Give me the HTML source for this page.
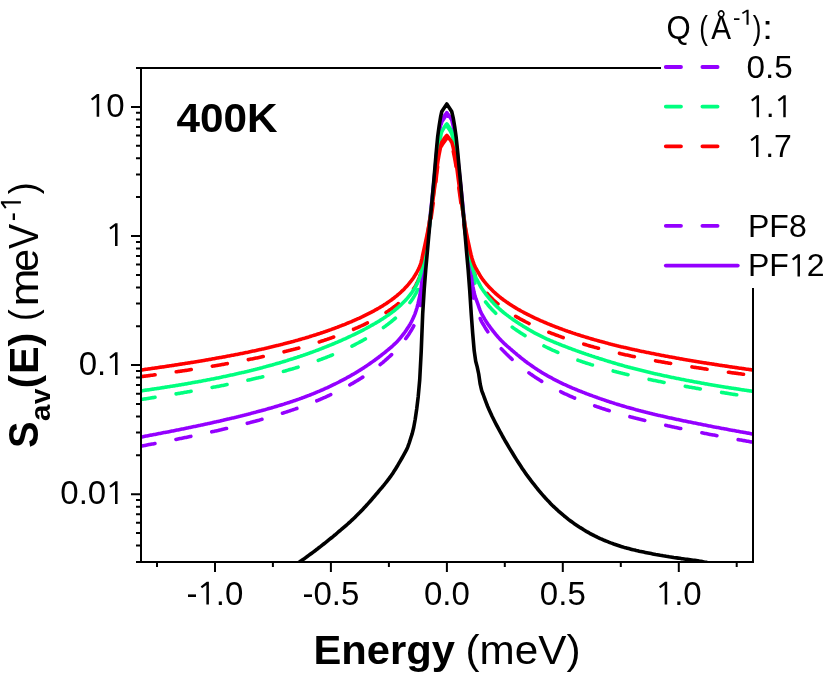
<!DOCTYPE html>
<html><head><meta charset="utf-8"><title>chart</title>
<style>
html,body{margin:0;padding:0;background:#fff;}
svg{display:block}
text{font-family:"Liberation Sans",sans-serif;fill:#000}
svg{will-change:transform;transform:translateZ(0)}
.t{font-size:33px}
.l{font-size:32px}
.b{font-weight:bold}
</style></head><body>
<svg width="830" height="674" viewBox="0 0 830 674">
<rect width="830" height="674" fill="#fff"/>
<defs><clipPath id="cp"><rect x="141.0" y="68.0" width="612.0" height="494.0"/></clipPath></defs>
<g clip-path="url(#cp)" fill="none" stroke-width="3.6" stroke-linecap="round" stroke-linejoin="round">
<path d="M141.0,446.1 L142.0,445.9 L143.0,445.7 L144.0,445.6 L145.0,445.4 L146.0,445.2 L147.0,445.0 L148.0,444.8 L149.0,444.6 L150.0,444.4 L151.0,444.3 L152.0,444.1 L153.0,443.9 L154.0,443.7 L155.0,443.5 L156.0,443.3 L157.0,443.1 L158.0,442.9 L159.0,442.7 L160.0,442.5 L161.0,442.4 L162.0,442.2 L163.0,442.0 L164.0,441.8 L165.0,441.6 L166.0,441.4 L167.0,441.2 L168.0,441.0 L169.0,440.8 L170.0,440.6 L171.0,440.4 L172.0,440.2 L173.0,440.0 L174.0,439.8 L175.0,439.6 L176.0,439.4 L177.0,439.2 L178.0,439.0 L179.0,438.8 L180.0,438.6 L181.0,438.4 L182.0,438.2 L183.0,438.0 L184.0,437.8 L185.0,437.6 L186.0,437.4 L187.0,437.2 L188.0,437.0 L189.0,436.8 L190.0,436.6 L191.0,436.4 L192.0,436.1 L193.0,435.9 L194.0,435.7 L195.0,435.5 L196.0,435.3 L197.0,435.1 L198.0,434.9 L199.0,434.7 L200.0,434.4 L201.0,434.2 L202.0,434.0 L203.0,433.8 L204.0,433.6 L205.0,433.4 L206.0,433.1 L207.0,432.9 L208.0,432.7 L209.0,432.5 L210.0,432.3 L211.0,432.0 L212.0,431.8 L213.0,431.6 L214.0,431.4 L215.0,431.1 L216.0,430.9 L217.0,430.7 L218.0,430.5 L219.0,430.2 L220.0,430.0 L221.0,429.8 L222.0,429.5 L223.0,429.3 L224.0,429.1 L225.0,428.8 L226.0,428.6 L227.0,428.4 L228.0,428.1 L229.0,427.9 L230.0,427.6 L231.0,427.4 L232.0,427.2 L233.0,426.9 L234.0,426.7 L235.0,426.4 L236.0,426.2 L237.0,425.9 L238.0,425.7 L239.0,425.4 L240.0,425.2 L241.0,424.9 L242.0,424.7 L243.0,424.4 L244.0,424.2 L245.0,423.9 L246.0,423.6 L247.0,423.4 L248.0,423.1 L249.0,422.9 L250.0,422.6 L251.0,422.3 L252.0,422.1 L253.0,421.8 L254.0,421.5 L255.0,421.3 L256.0,421.0 L257.0,420.7 L258.0,420.4 L259.0,420.2 L260.0,419.9 L261.0,419.6 L262.0,419.3 L263.0,419.1 L264.0,418.8 L265.0,418.5 L266.0,418.2 L267.0,417.9 L268.0,417.6 L269.0,417.3 L270.0,417.0 L271.0,416.7 L272.0,416.4 L273.0,416.1 L274.0,415.8 L275.0,415.5 L276.0,415.2 L277.0,414.9 L278.0,414.6 L279.0,414.3 L280.0,414.0 L281.0,413.7 L282.0,413.4 L283.0,413.1 L284.0,412.7 L285.0,412.4 L286.0,412.1 L287.0,411.8 L288.0,411.4 L289.0,411.1 L290.0,410.8 L291.0,410.4 L292.0,410.1 L293.0,409.8 L294.0,409.4 L295.0,409.1 L296.0,408.7 L297.0,408.4 L298.0,408.0 L299.0,407.7 L300.0,407.3 L301.0,407.0 L302.0,406.6 L303.0,406.2 L304.0,405.8 L305.0,405.5 L306.0,405.1 L307.0,404.7 L308.0,404.3 L309.0,403.9 L310.0,403.5 L311.0,403.2 L312.0,402.8 L313.0,402.4 L314.0,402.0 L315.0,401.5 L316.0,401.1 L317.0,400.7 L318.0,400.3 L319.0,399.9 L320.0,399.5 L321.0,399.0 L322.0,398.6 L323.0,398.2 L324.0,397.7 L325.0,397.3 L326.0,396.8 L327.0,396.4 L328.0,395.9 L329.0,395.5 L330.0,395.0 L331.0,394.5 L332.0,394.1 L333.0,393.6 L334.0,393.1 L335.0,392.6 L336.0,392.1 L337.0,391.6 L338.0,391.1 L339.0,390.6 L340.0,390.1 L341.0,389.6 L342.0,389.1 L343.0,388.6 L344.0,388.1 L345.0,387.5 L346.0,387.0 L347.0,386.5 L348.0,385.9 L349.0,385.4 L350.0,384.8 L351.0,384.2 L352.0,383.7 L353.0,383.1 L354.0,382.5 L355.0,381.9 L356.0,381.3 L357.0,380.7 L358.0,380.1 L359.0,379.5 L360.0,378.9 L361.0,378.2 L362.0,377.6 L363.0,377.0 L364.0,376.3 L365.0,375.6 L366.0,375.0 L367.0,374.3 L368.0,373.6 L369.0,372.9 L370.0,372.2 L371.0,371.5 L372.0,370.8 L373.0,370.1 L374.0,369.3 L375.0,368.6 L376.0,367.8 L377.0,367.1 L378.0,366.3 L379.0,365.5 L380.0,364.7 L381.0,363.9 L382.0,363.1 L383.0,362.3 L384.0,361.4 L385.0,360.6 L386.0,359.7 L387.0,358.8 L388.0,357.9 L389.0,357.0 L390.0,356.1 L391.0,355.2 L392.0,354.2 L393.0,353.2 L394.0,352.2 L395.0,351.2 L396.0,350.1 L397.0,349.1 L398.0,348.0 L399.0,346.9 L400.0,345.7 L401.0,344.5 L402.0,343.3 L403.0,342.1 L404.0,340.9 L405.0,339.6 L406.0,338.3 L407.0,336.9 L408.0,335.5 L409.0,334.0 L410.0,332.4 L411.0,330.8 L412.0,329.1 L413.0,327.4 L414.0,325.4 L415.0,323.3 L416.0,320.9 L417.0,318.4 L418.0,315.5 L419.0,312.2 L420.0,307.9 L421.0,301.4 L422.0,292.0 L423.0,280.5 L424.0,271.4 L425.0,262.9 L426.0,254.7 L427.0,246.8 L428.0,238.4 L429.0,229.8 L430.0,221.1 L431.0,212.1 L432.0,202.9 L433.0,193.3 L434.0,183.4 L435.0,173.1 L436.0,162.3 L437.0,151.5 L438.0,143.2 L439.0,136.4 L440.0,130.4 L441.0,124.8 L441.8,121.8 L442.0,121.5 L443.0,120.0 L444.0,118.5 L445.0,117.0 L446.0,115.5 L446.8,114.4" stroke="#9400ff" stroke-dasharray="15.2 21.4" stroke-dashoffset="1.0"/>
<path d="M446.8,114.4 L447.0,114.8 L448.0,116.2 L449.0,117.7 L450.0,119.2 L451.0,120.7 L451.7,121.8 L452.0,122.6 L453.0,126.9 L454.0,132.2 L455.0,138.1 L456.0,145.0 L457.0,153.1 L458.0,163.1 L459.0,172.8 L460.0,182.1 L461.0,191.5 L462.0,201.3 L463.0,211.1 L464.0,220.8 L465.0,230.2 L466.0,239.3 L467.0,247.8 L468.0,255.8 L469.0,264.0 L470.0,272.9 L471.0,281.8 L472.0,289.4 L473.0,295.5 L474.0,300.8 L475.0,304.8 L476.0,307.6 L477.0,309.9 L478.0,312.3 L479.0,314.9 L480.0,317.8 L481.0,320.4 L482.0,322.3 L483.0,324.0 L484.0,325.7 L485.0,327.4 L486.0,329.0 L487.0,330.6 L488.0,332.1 L489.0,333.5 L490.0,334.9 L491.0,336.3 L492.0,337.6 L493.0,338.9 L494.0,340.2 L495.0,341.4 L496.0,342.7 L497.0,343.8 L498.0,345.0 L499.0,346.1 L500.0,347.3 L501.0,348.4 L502.0,349.4 L503.0,350.5 L504.0,351.5 L505.0,352.6 L506.0,353.6 L507.0,354.5 L508.0,355.5 L509.0,356.5 L510.0,357.4 L511.0,358.3 L512.0,359.3 L513.0,360.1 L514.0,361.0 L515.0,361.9 L516.0,362.8 L517.0,363.6 L518.0,364.5 L519.0,365.3 L520.0,366.1 L521.0,366.9 L522.0,367.7 L523.0,368.5 L524.0,369.3 L525.0,370.0 L526.0,370.8 L527.0,371.5 L528.0,372.2 L529.0,372.9 L530.0,373.7 L531.0,374.3 L532.0,375.0 L533.0,375.7 L534.0,376.4 L535.0,377.1 L536.0,377.7 L537.0,378.4 L538.0,379.0 L539.0,379.6 L540.0,380.3 L541.0,380.9 L542.0,381.5 L543.0,382.1 L544.0,382.7 L545.0,383.3 L546.0,383.9 L547.0,384.4 L548.0,385.0 L549.0,385.6 L550.0,386.1 L551.0,386.7 L552.0,387.2 L553.0,387.8 L554.0,388.3 L555.0,388.8 L556.0,389.3 L557.0,389.8 L558.0,390.4 L559.0,390.9 L560.0,391.4 L561.0,391.8 L562.0,392.3 L563.0,392.8 L564.0,393.3 L565.0,393.8 L566.0,394.2 L567.0,394.7 L568.0,395.1 L569.0,395.6 L570.0,396.1 L571.0,396.5 L572.0,396.9 L573.0,397.4 L574.0,397.8 L575.0,398.2 L576.0,398.6 L577.0,399.1 L578.0,399.5 L579.0,399.9 L580.0,400.3 L581.0,400.7 L582.0,401.1 L583.0,401.5 L584.0,401.9 L585.0,402.3 L586.0,402.7 L587.0,403.0 L588.0,403.4 L589.0,403.8 L590.0,404.2 L591.0,404.5 L592.0,404.9 L593.0,405.2 L594.0,405.6 L595.0,406.0 L596.0,406.3 L597.0,406.7 L598.0,407.0 L599.0,407.3 L600.0,407.7 L601.0,408.0 L602.0,408.4 L603.0,408.7 L604.0,409.0 L605.0,409.3 L606.0,409.7 L607.0,410.0 L608.0,410.3 L609.0,410.6 L610.0,410.9 L611.0,411.2 L612.0,411.5 L613.0,411.8 L614.0,412.2 L615.0,412.5 L616.0,412.7 L617.0,413.0 L618.0,413.3 L619.0,413.6 L620.0,413.9 L621.0,414.2 L622.0,414.5 L623.0,414.8 L624.0,415.1 L625.0,415.3 L626.0,415.6 L627.0,415.9 L628.0,416.2 L629.0,416.4 L630.0,416.7 L631.0,417.0 L632.0,417.2 L633.0,417.5 L634.0,417.8 L635.0,418.0 L636.0,418.3 L637.0,418.5 L638.0,418.8 L639.0,419.1 L640.0,419.3 L641.0,419.6 L642.0,419.8 L643.0,420.1 L644.0,420.3 L645.0,420.5 L646.0,420.8 L647.0,421.0 L648.0,421.3 L649.0,421.5 L650.0,421.8 L651.0,422.0 L652.0,422.2 L653.0,422.5 L654.0,422.7 L655.0,422.9 L656.0,423.2 L657.0,423.4 L658.0,423.6 L659.0,423.8 L660.0,424.1 L661.0,424.3 L662.0,424.5 L663.0,424.8 L664.0,425.0 L665.0,425.2 L666.0,425.4 L667.0,425.6 L668.0,425.9 L669.0,426.1 L670.0,426.3 L671.0,426.5 L672.0,426.7 L673.0,426.9 L674.0,427.1 L675.0,427.4 L676.0,427.6 L677.0,427.8 L678.0,428.0 L679.0,428.2 L680.0,428.4 L681.0,428.6 L682.0,428.8 L683.0,429.0 L684.0,429.2 L685.0,429.4 L686.0,429.6 L687.0,429.8 L688.0,430.0 L689.0,430.2 L690.0,430.4 L691.0,430.6 L692.0,430.8 L693.0,431.0 L694.0,431.2 L695.0,431.4 L696.0,431.6 L697.0,431.8 L698.0,432.0 L699.0,432.2 L700.0,432.4 L701.0,432.6 L702.0,432.8 L703.0,433.0 L704.0,433.2 L705.0,433.4 L706.0,433.6 L707.0,433.8 L708.0,434.0 L709.0,434.2 L710.0,434.4 L711.0,434.6 L712.0,434.7 L713.0,434.9 L714.0,435.1 L715.0,435.3 L716.0,435.5 L717.0,435.7 L718.0,435.9 L719.0,436.1 L720.0,436.3 L721.0,436.4 L722.0,436.6 L723.0,436.8 L724.0,437.0 L725.0,437.2 L726.0,437.4 L727.0,437.6 L728.0,437.7 L729.0,437.9 L730.0,438.1 L731.0,438.3 L732.0,438.5 L733.0,438.7 L734.0,438.8 L735.0,439.0 L736.0,439.2 L737.0,439.4 L738.0,439.6 L739.0,439.7 L740.0,439.9 L741.0,440.1 L742.0,440.3 L743.0,440.5 L744.0,440.6 L745.0,440.8 L746.0,441.0 L747.0,441.2 L748.0,441.3 L749.0,441.5 L750.0,441.7 L751.0,441.9 L752.0,442.0 L753.0,442.2" stroke="#9400ff" stroke-dasharray="15.3 21.60" stroke-dashoffset="13.22"/>
<path d="M141.0,399.5 L142.0,399.3 L143.0,399.2 L144.0,399.0 L145.0,398.9 L146.0,398.7 L147.0,398.6 L148.0,398.4 L149.0,398.2 L150.0,398.1 L151.0,397.9 L152.0,397.8 L153.0,397.6 L154.0,397.5 L155.0,397.3 L156.0,397.1 L157.0,397.0 L158.0,396.8 L159.0,396.7 L160.0,396.5 L161.0,396.3 L162.0,396.2 L163.0,396.0 L164.0,395.9 L165.0,395.7 L166.0,395.5 L167.0,395.4 L168.0,395.2 L169.0,395.0 L170.0,394.9 L171.0,394.7 L172.0,394.5 L173.0,394.4 L174.0,394.2 L175.0,394.0 L176.0,393.9 L177.0,393.7 L178.0,393.5 L179.0,393.4 L180.0,393.2 L181.0,393.0 L182.0,392.9 L183.0,392.7 L184.0,392.5 L185.0,392.3 L186.0,392.2 L187.0,392.0 L188.0,391.8 L189.0,391.7 L190.0,391.5 L191.0,391.3 L192.0,391.1 L193.0,391.0 L194.0,390.8 L195.0,390.6 L196.0,390.4 L197.0,390.2 L198.0,390.1 L199.0,389.9 L200.0,389.7 L201.0,389.5 L202.0,389.3 L203.0,389.2 L204.0,389.0 L205.0,388.8 L206.0,388.6 L207.0,388.4 L208.0,388.2 L209.0,388.1 L210.0,387.9 L211.0,387.7 L212.0,387.5 L213.0,387.3 L214.0,387.1 L215.0,386.9 L216.0,386.7 L217.0,386.5 L218.0,386.4 L219.0,386.2 L220.0,386.0 L221.0,385.8 L222.0,385.6 L223.0,385.4 L224.0,385.2 L225.0,385.0 L226.0,384.8 L227.0,384.6 L228.0,384.4 L229.0,384.2 L230.0,384.0 L231.0,383.8 L232.0,383.6 L233.0,383.4 L234.0,383.2 L235.0,382.9 L236.0,382.7 L237.0,382.5 L238.0,382.3 L239.0,382.1 L240.0,381.9 L241.0,381.7 L242.0,381.5 L243.0,381.2 L244.0,381.0 L245.0,380.8 L246.0,380.6 L247.0,380.4 L248.0,380.1 L249.0,379.9 L250.0,379.7 L251.0,379.5 L252.0,379.2 L253.0,379.0 L254.0,378.8 L255.0,378.6 L256.0,378.3 L257.0,378.1 L258.0,377.9 L259.0,377.6 L260.0,377.4 L261.0,377.2 L262.0,376.9 L263.0,376.7 L264.0,376.4 L265.0,376.2 L266.0,375.9 L267.0,375.7 L268.0,375.4 L269.0,375.2 L270.0,374.9 L271.0,374.7 L272.0,374.4 L273.0,374.2 L274.0,373.9 L275.0,373.7 L276.0,373.4 L277.0,373.1 L278.0,372.9 L279.0,372.6 L280.0,372.3 L281.0,372.1 L282.0,371.8 L283.0,371.5 L284.0,371.2 L285.0,371.0 L286.0,370.7 L287.0,370.4 L288.0,370.1 L289.0,369.8 L290.0,369.5 L291.0,369.2 L292.0,369.0 L293.0,368.7 L294.0,368.4 L295.0,368.1 L296.0,367.8 L297.0,367.5 L298.0,367.2 L299.0,366.8 L300.0,366.5 L301.0,366.2 L302.0,365.9 L303.0,365.6 L304.0,365.3 L305.0,364.9 L306.0,364.6 L307.0,364.3 L308.0,364.0 L309.0,363.6 L310.0,363.3 L311.0,362.9 L312.0,362.6 L313.0,362.2 L314.0,361.9 L315.0,361.5 L316.0,361.2 L317.0,360.8 L318.0,360.5 L319.0,360.1 L320.0,359.7 L321.0,359.4 L322.0,359.0 L323.0,358.6 L324.0,358.2 L325.0,357.9 L326.0,357.5 L327.0,357.1 L328.0,356.7 L329.0,356.3 L330.0,355.9 L331.0,355.5 L332.0,355.1 L333.0,354.7 L334.0,354.2 L335.0,353.8 L336.0,353.4 L337.0,353.0 L338.0,352.5 L339.0,352.1 L340.0,351.7 L341.0,351.2 L342.0,350.8 L343.0,350.3 L344.0,349.9 L345.0,349.4 L346.0,348.9 L347.0,348.5 L348.0,348.0 L349.0,347.5 L350.0,347.0 L351.0,346.6 L352.0,346.1 L353.0,345.6 L354.0,345.1 L355.0,344.6 L356.0,344.0 L357.0,343.5 L358.0,343.0 L359.0,342.5 L360.0,341.9 L361.0,341.4 L362.0,340.9 L363.0,340.3 L364.0,339.7 L365.0,339.2 L366.0,338.6 L367.0,338.0 L368.0,337.4 L369.0,336.9 L370.0,336.3 L371.0,335.7 L372.0,335.0 L373.0,334.4 L374.0,333.8 L375.0,333.2 L376.0,332.5 L377.0,331.9 L378.0,331.2 L379.0,330.6 L380.0,329.9 L381.0,329.2 L382.0,328.5 L383.0,327.8 L384.0,327.1 L385.0,326.4 L386.0,325.7 L387.0,324.9 L388.0,324.2 L389.0,323.4 L390.0,322.6 L391.0,321.8 L392.0,321.0 L393.0,320.2 L394.0,319.3 L395.0,318.5 L396.0,317.6 L397.0,316.7 L398.0,315.7 L399.0,314.8 L400.0,313.8 L401.0,312.9 L402.0,311.8 L403.0,310.8 L404.0,309.7 L405.0,308.6 L406.0,307.5 L407.0,306.4 L408.0,305.1 L409.0,303.9 L410.0,302.5 L411.0,301.2 L412.0,299.7 L413.0,298.2 L414.0,296.6 L415.0,294.9 L416.0,293.1 L417.0,291.1 L418.0,288.9 L419.0,286.4 L420.0,283.5 L421.0,279.5 L422.0,273.9 L423.0,266.8 L424.0,260.7 L425.0,254.7 L426.0,248.7 L427.0,242.6 L428.0,236.1 L429.0,229.3 L430.0,222.2 L431.0,214.7 L432.0,207.0 L433.0,198.8 L434.0,190.2 L435.0,181.2 L436.0,171.6 L437.0,161.9 L438.0,154.2 L439.0,147.8 L440.0,142.1 L441.0,136.7 L441.8,133.7 L442.0,133.3 L443.0,131.6 L444.0,129.9 L445.0,128.4 L446.0,126.9 L446.8,126.0" stroke="#00ff7f" stroke-dasharray="15.2 21.4" stroke-dashoffset="1.0"/>
<path d="M446.8,126.0 L447.0,126.3 L448.0,127.6 L449.0,129.1 L450.0,130.6 L451.0,132.3 L451.7,133.6 L452.0,134.5 L453.0,138.6 L454.0,143.8 L455.0,149.4 L456.0,155.9 L457.0,163.5 L458.0,172.5 L459.0,181.2 L460.0,189.4 L461.0,197.7 L462.0,206.0 L463.0,214.2 L464.0,222.2 L465.0,229.8 L466.0,237.0 L467.0,243.5 L468.0,249.6 L469.0,255.6 L470.0,261.8 L471.0,267.7 L472.0,272.7 L473.0,276.8 L474.0,280.4 L475.0,283.3 L476.0,285.5 L477.0,287.4 L478.0,289.4 L479.0,291.4 L480.0,293.5 L481.0,295.4 L482.0,296.9 L483.0,298.3 L484.0,299.8 L485.0,301.1 L486.0,302.5 L487.0,303.7 L488.0,305.0 L489.0,306.2 L490.0,307.3 L491.0,308.4 L492.0,309.5 L493.0,310.6 L494.0,311.6 L495.0,312.6 L496.0,313.6 L497.0,314.5 L498.0,315.5 L499.0,316.4 L500.0,317.3 L501.0,318.2 L502.0,319.1 L503.0,319.9 L504.0,320.7 L505.0,321.6 L506.0,322.4 L507.0,323.2 L508.0,323.9 L509.0,324.7 L510.0,325.5 L511.0,326.2 L512.0,326.9 L513.0,327.7 L514.0,328.4 L515.0,329.1 L516.0,329.8 L517.0,330.5 L518.0,331.1 L519.0,331.8 L520.0,332.5 L521.0,333.1 L522.0,333.7 L523.0,334.4 L524.0,335.0 L525.0,335.6 L526.0,336.2 L527.0,336.8 L528.0,337.4 L529.0,338.0 L530.0,338.6 L531.0,339.2 L532.0,339.7 L533.0,340.3 L534.0,340.8 L535.0,341.4 L536.0,341.9 L537.0,342.5 L538.0,343.0 L539.0,343.5 L540.0,344.0 L541.0,344.5 L542.0,345.0 L543.0,345.5 L544.0,346.0 L545.0,346.5 L546.0,347.0 L547.0,347.5 L548.0,348.0 L549.0,348.4 L550.0,348.9 L551.0,349.4 L552.0,349.8 L553.0,350.3 L554.0,350.7 L555.0,351.2 L556.0,351.6 L557.0,352.0 L558.0,352.5 L559.0,352.9 L560.0,353.3 L561.0,353.7 L562.0,354.1 L563.0,354.5 L564.0,355.0 L565.0,355.4 L566.0,355.7 L567.0,356.1 L568.0,356.5 L569.0,356.9 L570.0,357.3 L571.0,357.7 L572.0,358.1 L573.0,358.4 L574.0,358.8 L575.0,359.2 L576.0,359.5 L577.0,359.9 L578.0,360.2 L579.0,360.6 L580.0,360.9 L581.0,361.3 L582.0,361.6 L583.0,362.0 L584.0,362.3 L585.0,362.6 L586.0,363.0 L587.0,363.3 L588.0,363.6 L589.0,363.9 L590.0,364.2 L591.0,364.6 L592.0,364.9 L593.0,365.2 L594.0,365.5 L595.0,365.8 L596.0,366.1 L597.0,366.4 L598.0,366.7 L599.0,367.0 L600.0,367.3 L601.0,367.6 L602.0,367.9 L603.0,368.2 L604.0,368.5 L605.0,368.7 L606.0,369.0 L607.0,369.3 L608.0,369.6 L609.0,369.8 L610.0,370.1 L611.0,370.4 L612.0,370.6 L613.0,370.9 L614.0,371.2 L615.0,371.4 L616.0,371.7 L617.0,372.0 L618.0,372.2 L619.0,372.5 L620.0,372.7 L621.0,373.0 L622.0,373.2 L623.0,373.5 L624.0,373.7 L625.0,374.0 L626.0,374.2 L627.0,374.4 L628.0,374.7 L629.0,374.9 L630.0,375.2 L631.0,375.4 L632.0,375.6 L633.0,375.8 L634.0,376.1 L635.0,376.3 L636.0,376.5 L637.0,376.8 L638.0,377.0 L639.0,377.2 L640.0,377.4 L641.0,377.6 L642.0,377.9 L643.0,378.1 L644.0,378.3 L645.0,378.5 L646.0,378.7 L647.0,378.9 L648.0,379.2 L649.0,379.4 L650.0,379.6 L651.0,379.8 L652.0,380.0 L653.0,380.2 L654.0,380.4 L655.0,380.6 L656.0,380.8 L657.0,381.0 L658.0,381.2 L659.0,381.4 L660.0,381.6 L661.0,381.8 L662.0,382.0 L663.0,382.2 L664.0,382.4 L665.0,382.6 L666.0,382.8 L667.0,383.0 L668.0,383.2 L669.0,383.3 L670.0,383.5 L671.0,383.7 L672.0,383.9 L673.0,384.1 L674.0,384.3 L675.0,384.5 L676.0,384.7 L677.0,384.8 L678.0,385.0 L679.0,385.2 L680.0,385.4 L681.0,385.6 L682.0,385.7 L683.0,385.9 L684.0,386.1 L685.0,386.3 L686.0,386.5 L687.0,386.6 L688.0,386.8 L689.0,387.0 L690.0,387.2 L691.0,387.3 L692.0,387.5 L693.0,387.7 L694.0,387.8 L695.0,388.0 L696.0,388.2 L697.0,388.4 L698.0,388.5 L699.0,388.7 L700.0,388.9 L701.0,389.0 L702.0,389.2 L703.0,389.4 L704.0,389.5 L705.0,389.7 L706.0,389.9 L707.0,390.0 L708.0,390.2 L709.0,390.4 L710.0,390.5 L711.0,390.7 L712.0,390.9 L713.0,391.0 L714.0,391.2 L715.0,391.4 L716.0,391.5 L717.0,391.7 L718.0,391.8 L719.0,392.0 L720.0,392.2 L721.0,392.3 L722.0,392.5 L723.0,392.6 L724.0,392.8 L725.0,393.0 L726.0,393.1 L727.0,393.3 L728.0,393.4 L729.0,393.6 L730.0,393.7 L731.0,393.9 L732.0,394.1 L733.0,394.2 L734.0,394.4 L735.0,394.5 L736.0,394.7 L737.0,394.8 L738.0,395.0 L739.0,395.1 L740.0,395.3 L741.0,395.4 L742.0,395.6 L743.0,395.7 L744.0,395.9 L745.0,396.0 L746.0,396.2 L747.0,396.3 L748.0,396.5 L749.0,396.6 L750.0,396.8 L751.0,396.9 L752.0,397.1 L753.0,397.2" stroke="#00ff7f" stroke-dasharray="15.3 21.60" stroke-dashoffset="2.33"/>
<path d="M141.0,376.7 L142.0,376.5 L143.0,376.4 L144.0,376.3 L145.0,376.1 L146.0,376.0 L147.0,375.9 L148.0,375.7 L149.0,375.6 L150.0,375.5 L151.0,375.3 L152.0,375.2 L153.0,375.1 L154.0,374.9 L155.0,374.8 L156.0,374.7 L157.0,374.5 L158.0,374.4 L159.0,374.2 L160.0,374.1 L161.0,374.0 L162.0,373.8 L163.0,373.7 L164.0,373.5 L165.0,373.4 L166.0,373.3 L167.0,373.1 L168.0,373.0 L169.0,372.8 L170.0,372.7 L171.0,372.6 L172.0,372.4 L173.0,372.3 L174.0,372.1 L175.0,372.0 L176.0,371.8 L177.0,371.7 L178.0,371.5 L179.0,371.4 L180.0,371.2 L181.0,371.1 L182.0,371.0 L183.0,370.8 L184.0,370.7 L185.0,370.5 L186.0,370.4 L187.0,370.2 L188.0,370.1 L189.0,369.9 L190.0,369.8 L191.0,369.6 L192.0,369.4 L193.0,369.3 L194.0,369.1 L195.0,369.0 L196.0,368.8 L197.0,368.7 L198.0,368.5 L199.0,368.4 L200.0,368.2 L201.0,368.0 L202.0,367.9 L203.0,367.7 L204.0,367.6 L205.0,367.4 L206.0,367.2 L207.0,367.1 L208.0,366.9 L209.0,366.7 L210.0,366.6 L211.0,366.4 L212.0,366.3 L213.0,366.1 L214.0,365.9 L215.0,365.7 L216.0,365.6 L217.0,365.4 L218.0,365.2 L219.0,365.1 L220.0,364.9 L221.0,364.7 L222.0,364.5 L223.0,364.4 L224.0,364.2 L225.0,364.0 L226.0,363.8 L227.0,363.7 L228.0,363.5 L229.0,363.3 L230.0,363.1 L231.0,363.0 L232.0,362.8 L233.0,362.6 L234.0,362.4 L235.0,362.2 L236.0,362.0 L237.0,361.8 L238.0,361.7 L239.0,361.5 L240.0,361.3 L241.0,361.1 L242.0,360.9 L243.0,360.7 L244.0,360.5 L245.0,360.3 L246.0,360.1 L247.0,359.9 L248.0,359.7 L249.0,359.5 L250.0,359.3 L251.0,359.1 L252.0,358.9 L253.0,358.7 L254.0,358.5 L255.0,358.3 L256.0,358.1 L257.0,357.9 L258.0,357.7 L259.0,357.5 L260.0,357.3 L261.0,357.1 L262.0,356.8 L263.0,356.6 L264.0,356.4 L265.0,356.2 L266.0,356.0 L267.0,355.7 L268.0,355.5 L269.0,355.3 L270.0,355.1 L271.0,354.8 L272.0,354.6 L273.0,354.4 L274.0,354.2 L275.0,353.9 L276.0,353.7 L277.0,353.5 L278.0,353.2 L279.0,353.0 L280.0,352.7 L281.0,352.5 L282.0,352.3 L283.0,352.0 L284.0,351.8 L285.0,351.5 L286.0,351.3 L287.0,351.0 L288.0,350.8 L289.0,350.5 L290.0,350.3 L291.0,350.0 L292.0,349.7 L293.0,349.5 L294.0,349.2 L295.0,349.0 L296.0,348.7 L297.0,348.4 L298.0,348.2 L299.0,347.9 L300.0,347.6 L301.0,347.3 L302.0,347.1 L303.0,346.8 L304.0,346.5 L305.0,346.2 L306.0,345.9 L307.0,345.6 L308.0,345.3 L309.0,345.0 L310.0,344.7 L311.0,344.4 L312.0,344.1 L313.0,343.8 L314.0,343.5 L315.0,343.2 L316.0,342.9 L317.0,342.6 L318.0,342.3 L319.0,342.0 L320.0,341.7 L321.0,341.3 L322.0,341.0 L323.0,340.7 L324.0,340.4 L325.0,340.0 L326.0,339.7 L327.0,339.4 L328.0,339.0 L329.0,338.7 L330.0,338.3 L331.0,338.0 L332.0,337.6 L333.0,337.3 L334.0,336.9 L335.0,336.6 L336.0,336.2 L337.0,335.8 L338.0,335.5 L339.0,335.1 L340.0,334.7 L341.0,334.3 L342.0,334.0 L343.0,333.6 L344.0,333.2 L345.0,332.8 L346.0,332.4 L347.0,332.0 L348.0,331.6 L349.0,331.2 L350.0,330.8 L351.0,330.4 L352.0,330.0 L353.0,329.5 L354.0,329.1 L355.0,328.7 L356.0,328.2 L357.0,327.8 L358.0,327.4 L359.0,326.9 L360.0,326.5 L361.0,326.0 L362.0,325.5 L363.0,325.1 L364.0,324.6 L365.0,324.1 L366.0,323.6 L367.0,323.1 L368.0,322.7 L369.0,322.1 L370.0,321.6 L371.0,321.1 L372.0,320.6 L373.0,320.1 L374.0,319.5 L375.0,319.0 L376.0,318.5 L377.0,317.9 L378.0,317.3 L379.0,316.8 L380.0,316.2 L381.0,315.6 L382.0,315.0 L383.0,314.4 L384.0,313.8 L385.0,313.1 L386.0,312.5 L387.0,311.8 L388.0,311.2 L389.0,310.5 L390.0,309.8 L391.0,309.1 L392.0,308.3 L393.0,307.6 L394.0,306.8 L395.0,306.1 L396.0,305.3 L397.0,304.6 L398.0,303.8 L399.0,303.1 L400.0,302.4 L401.0,301.7 L402.0,301.0 L403.0,300.2 L404.0,299.4 L405.0,298.5 L406.0,297.6 L407.0,296.7 L408.0,295.7 L409.0,294.7 L410.0,293.6 L411.0,292.4 L412.0,291.2 L413.0,289.8 L414.0,288.3 L415.0,286.6 L416.0,284.8 L417.0,282.9 L418.0,280.8 L419.0,278.5 L420.0,275.9 L421.0,272.4 L422.0,267.6 L423.0,261.8 L424.0,256.7 L425.0,251.8 L426.0,246.8 L427.0,241.8 L428.0,236.4 L429.0,230.7 L430.0,224.7 L431.0,218.4 L432.0,211.7 L433.0,204.5 L434.0,197.0 L435.0,188.9 L436.0,180.3 L437.0,171.4 L438.0,164.4 L439.0,158.4 L440.0,153.2 L441.0,148.2 L441.8,145.4 L442.0,145.1 L443.0,143.6 L444.0,142.1 L445.0,140.7 L446.0,139.4 L446.8,138.5" stroke="#ff0000" stroke-dasharray="15.2 21.4" stroke-dashoffset="1.0"/>
<path d="M446.8,138.5 L447.0,138.8 L448.0,140.0 L449.0,141.4 L450.0,142.8 L451.0,144.3 L451.7,145.4 L452.0,146.2 L453.0,150.0 L454.0,154.8 L455.0,159.9 L456.0,165.9 L457.0,172.9 L458.0,181.0 L459.0,188.9 L460.0,196.3 L461.0,203.6 L462.0,210.9 L463.0,218.0 L464.0,224.8 L465.0,231.2 L466.0,237.2 L467.0,242.7 L468.0,247.7 L469.0,252.5 L470.0,257.5 L471.0,262.2 L472.0,266.2 L473.0,269.5 L474.0,272.4 L475.0,274.8 L476.0,276.8 L477.0,278.6 L478.0,280.3 L479.0,282.1 L480.0,283.9 L481.0,285.6 L482.0,287.0 L483.0,288.3 L484.0,289.6 L485.0,290.9 L486.0,292.1 L487.0,293.3 L488.0,294.4 L489.0,295.5 L490.0,296.6 L491.0,297.6 L492.0,298.6 L493.0,299.6 L494.0,300.5 L495.0,301.4 L496.0,302.3 L497.0,303.2 L498.0,304.0 L499.0,304.9 L500.0,305.7 L501.0,306.4 L502.0,307.2 L503.0,308.0 L504.0,308.7 L505.0,309.4 L506.0,310.1 L507.0,310.8 L508.0,311.5 L509.0,312.2 L510.0,312.8 L511.0,313.5 L512.0,314.1 L513.0,314.7 L514.0,315.3 L515.0,315.9 L516.0,316.5 L517.0,317.1 L518.0,317.7 L519.0,318.2 L520.0,318.8 L521.0,319.3 L522.0,319.9 L523.0,320.4 L524.0,320.9 L525.0,321.5 L526.0,322.0 L527.0,322.5 L528.0,323.0 L529.0,323.5 L530.0,324.0 L531.0,324.4 L532.0,324.9 L533.0,325.4 L534.0,325.9 L535.0,326.3 L536.0,326.8 L537.0,327.2 L538.0,327.7 L539.0,328.1 L540.0,328.6 L541.0,329.0 L542.0,329.4 L543.0,329.8 L544.0,330.3 L545.0,330.7 L546.0,331.1 L547.0,331.5 L548.0,331.9 L549.0,332.3 L550.0,332.7 L551.0,333.1 L552.0,333.5 L553.0,333.8 L554.0,334.2 L555.0,334.6 L556.0,335.0 L557.0,335.3 L558.0,335.7 L559.0,336.1 L560.0,336.4 L561.0,336.8 L562.0,337.2 L563.0,337.5 L564.0,337.9 L565.0,338.2 L566.0,338.5 L567.0,338.9 L568.0,339.2 L569.0,339.5 L570.0,339.9 L571.0,340.2 L572.0,340.5 L573.0,340.9 L574.0,341.2 L575.0,341.5 L576.0,341.8 L577.0,342.1 L578.0,342.4 L579.0,342.7 L580.0,343.0 L581.0,343.3 L582.0,343.6 L583.0,343.9 L584.0,344.2 L585.0,344.5 L586.0,344.8 L587.0,345.1 L588.0,345.4 L589.0,345.7 L590.0,346.0 L591.0,346.3 L592.0,346.5 L593.0,346.8 L594.0,347.1 L595.0,347.4 L596.0,347.6 L597.0,347.9 L598.0,348.2 L599.0,348.4 L600.0,348.7 L601.0,348.9 L602.0,349.2 L603.0,349.5 L604.0,349.7 L605.0,350.0 L606.0,350.2 L607.0,350.5 L608.0,350.7 L609.0,351.0 L610.0,351.2 L611.0,351.4 L612.0,351.7 L613.0,351.9 L614.0,352.2 L615.0,352.4 L616.0,352.6 L617.0,352.9 L618.0,353.1 L619.0,353.3 L620.0,353.5 L621.0,353.8 L622.0,354.0 L623.0,354.2 L624.0,354.4 L625.0,354.7 L626.0,354.9 L627.0,355.1 L628.0,355.3 L629.0,355.5 L630.0,355.7 L631.0,356.0 L632.0,356.2 L633.0,356.4 L634.0,356.6 L635.0,356.8 L636.0,357.0 L637.0,357.2 L638.0,357.4 L639.0,357.6 L640.0,357.8 L641.0,358.0 L642.0,358.2 L643.0,358.4 L644.0,358.6 L645.0,358.8 L646.0,359.0 L647.0,359.2 L648.0,359.4 L649.0,359.6 L650.0,359.8 L651.0,359.9 L652.0,360.1 L653.0,360.3 L654.0,360.5 L655.0,360.7 L656.0,360.9 L657.0,361.1 L658.0,361.2 L659.0,361.4 L660.0,361.6 L661.0,361.8 L662.0,362.0 L663.0,362.1 L664.0,362.3 L665.0,362.5 L666.0,362.7 L667.0,362.8 L668.0,363.0 L669.0,363.2 L670.0,363.3 L671.0,363.5 L672.0,363.7 L673.0,363.9 L674.0,364.0 L675.0,364.2 L676.0,364.4 L677.0,364.5 L678.0,364.7 L679.0,364.9 L680.0,365.0 L681.0,365.2 L682.0,365.3 L683.0,365.5 L684.0,365.7 L685.0,365.8 L686.0,366.0 L687.0,366.1 L688.0,366.3 L689.0,366.5 L690.0,366.6 L691.0,366.8 L692.0,366.9 L693.0,367.1 L694.0,367.2 L695.0,367.4 L696.0,367.5 L697.0,367.7 L698.0,367.8 L699.0,368.0 L700.0,368.1 L701.0,368.3 L702.0,368.4 L703.0,368.6 L704.0,368.7 L705.0,368.9 L706.0,369.0 L707.0,369.2 L708.0,369.3 L709.0,369.5 L710.0,369.6 L711.0,369.8 L712.0,369.9 L713.0,370.1 L714.0,370.2 L715.0,370.3 L716.0,370.5 L717.0,370.6 L718.0,370.8 L719.0,370.9 L720.0,371.1 L721.0,371.2 L722.0,371.3 L723.0,371.5 L724.0,371.6 L725.0,371.8 L726.0,371.9 L727.0,372.0 L728.0,372.2 L729.0,372.3 L730.0,372.4 L731.0,372.6 L732.0,372.7 L733.0,372.9 L734.0,373.0 L735.0,373.1 L736.0,373.3 L737.0,373.4 L738.0,373.5 L739.0,373.7 L740.0,373.8 L741.0,373.9 L742.0,374.1 L743.0,374.2 L744.0,374.3 L745.0,374.5 L746.0,374.6 L747.0,374.7 L748.0,374.9 L749.0,375.0 L750.0,375.1 L751.0,375.2 L752.0,375.4 L753.0,375.5" stroke="#ff0000" stroke-dasharray="15.3 21.60" stroke-dashoffset="22.19"/>
<path d="M141.0,437.1 L142.0,436.9 L143.0,436.7 L144.0,436.5 L145.0,436.3 L146.0,436.1 L147.0,435.9 L148.0,435.7 L149.0,435.5 L150.0,435.3 L151.0,435.1 L152.0,435.0 L153.0,434.8 L154.0,434.6 L155.0,434.4 L156.0,434.2 L157.0,434.0 L158.0,433.8 L159.0,433.6 L160.0,433.4 L161.0,433.2 L162.0,433.0 L163.0,432.8 L164.0,432.6 L165.0,432.4 L166.0,432.2 L167.0,432.1 L168.0,431.9 L169.0,431.7 L170.0,431.5 L171.0,431.3 L172.0,431.1 L173.0,430.9 L174.0,430.7 L175.0,430.5 L176.0,430.3 L177.0,430.1 L178.0,429.9 L179.0,429.7 L180.0,429.5 L181.0,429.3 L182.0,429.1 L183.0,428.9 L184.0,428.7 L185.0,428.5 L186.0,428.3 L187.0,428.1 L188.0,427.9 L189.0,427.6 L190.0,427.4 L191.0,427.2 L192.0,427.0 L193.0,426.8 L194.0,426.6 L195.0,426.4 L196.0,426.2 L197.0,426.0 L198.0,425.8 L199.0,425.6 L200.0,425.4 L201.0,425.1 L202.0,424.9 L203.0,424.7 L204.0,424.5 L205.0,424.3 L206.0,424.1 L207.0,423.9 L208.0,423.6 L209.0,423.4 L210.0,423.2 L211.0,423.0 L212.0,422.8 L213.0,422.5 L214.0,422.3 L215.0,422.1 L216.0,421.9 L217.0,421.6 L218.0,421.4 L219.0,421.2 L220.0,421.0 L221.0,420.7 L222.0,420.5 L223.0,420.3 L224.0,420.0 L225.0,419.8 L226.0,419.6 L227.0,419.3 L228.0,419.1 L229.0,418.9 L230.0,418.6 L231.0,418.4 L232.0,418.1 L233.0,417.9 L234.0,417.7 L235.0,417.4 L236.0,417.2 L237.0,416.9 L238.0,416.7 L239.0,416.4 L240.0,416.2 L241.0,415.9 L242.0,415.7 L243.0,415.4 L244.0,415.2 L245.0,414.9 L246.0,414.7 L247.0,414.4 L248.0,414.2 L249.0,413.9 L250.0,413.7 L251.0,413.4 L252.0,413.1 L253.0,412.9 L254.0,412.6 L255.0,412.4 L256.0,412.1 L257.0,411.8 L258.0,411.6 L259.0,411.3 L260.0,411.0 L261.0,410.8 L262.0,410.5 L263.0,410.2 L264.0,409.9 L265.0,409.7 L266.0,409.4 L267.0,409.1 L268.0,408.8 L269.0,408.5 L270.0,408.2 L271.0,408.0 L272.0,407.7 L273.0,407.4 L274.0,407.1 L275.0,406.8 L276.0,406.5 L277.0,406.2 L278.0,405.9 L279.0,405.6 L280.0,405.3 L281.0,405.0 L282.0,404.7 L283.0,404.4 L284.0,404.1 L285.0,403.7 L286.0,403.4 L287.0,403.1 L288.0,402.8 L289.0,402.5 L290.0,402.1 L291.0,401.8 L292.0,401.5 L293.0,401.1 L294.0,400.8 L295.0,400.5 L296.0,400.1 L297.0,399.8 L298.0,399.4 L299.0,399.1 L300.0,398.7 L301.0,398.4 L302.0,398.0 L303.0,397.6 L304.0,397.3 L305.0,396.9 L306.0,396.5 L307.0,396.1 L308.0,395.7 L309.0,395.4 L310.0,395.0 L311.0,394.6 L312.0,394.2 L313.0,393.8 L314.0,393.4 L315.0,393.0 L316.0,392.5 L317.0,392.1 L318.0,391.7 L319.0,391.3 L320.0,390.9 L321.0,390.4 L322.0,390.0 L323.0,389.6 L324.0,389.1 L325.0,388.7 L326.0,388.2 L327.0,387.8 L328.0,387.3 L329.0,386.8 L330.0,386.4 L331.0,385.9 L332.0,385.4 L333.0,384.9 L334.0,384.4 L335.0,384.0 L336.0,383.5 L337.0,383.0 L338.0,382.5 L339.0,382.0 L340.0,381.4 L341.0,380.9 L342.0,380.4 L343.0,379.9 L344.0,379.4 L345.0,378.8 L346.0,378.3 L347.0,377.7 L348.0,377.2 L349.0,376.6 L350.0,376.1 L351.0,375.5 L352.0,374.9 L353.0,374.3 L354.0,373.8 L355.0,373.2 L356.0,372.6 L357.0,372.0 L358.0,371.4 L359.0,370.7 L360.0,370.1 L361.0,369.5 L362.0,368.9 L363.0,368.2 L364.0,367.6 L365.0,366.9 L366.0,366.3 L367.0,365.6 L368.0,364.9 L369.0,364.2 L370.0,363.5 L371.0,362.8 L372.0,362.1 L373.0,361.4 L374.0,360.7 L375.0,360.0 L376.0,359.2 L377.0,358.5 L378.0,357.8 L379.0,357.0 L380.0,356.2 L381.0,355.5 L382.0,354.7 L383.0,353.9 L384.0,353.1 L385.0,352.3 L386.0,351.5 L387.0,350.6 L388.0,349.8 L389.0,349.0 L390.0,348.2 L391.0,347.3 L392.0,346.5 L393.0,345.6 L394.0,344.6 L395.0,343.7 L396.0,342.7 L397.0,341.7 L398.0,340.6 L399.0,339.5 L400.0,338.3 L401.0,337.1 L402.0,335.9 L403.0,334.6 L404.0,333.3 L405.0,332.0 L406.0,330.6 L407.0,329.1 L408.0,327.6 L409.0,326.0 L410.0,324.3 L411.0,322.5 L412.0,320.6 L413.0,318.5 L414.0,316.3 L415.0,313.8 L416.0,310.9 L417.0,307.7 L418.0,304.0 L419.0,299.5 L420.0,295.0 L421.0,288.9 L422.0,280.8 L423.0,271.6 L424.0,264.2 L425.0,256.9 L426.0,249.2 L427.0,241.7 L428.0,233.7 L429.0,225.5 L430.0,217.1 L431.0,208.5 L432.0,199.5 L433.0,190.3 L434.0,180.6 L435.0,170.5 L436.0,160.0 L437.0,149.3 L438.0,141.1 L439.0,134.4 L440.0,128.5 L441.0,122.9 L441.8,119.9 L442.0,119.6 L443.0,118.1 L444.0,116.6 L445.0,115.1 L446.0,113.7 L446.8,112.6 L447.0,112.9 L448.0,114.4 L449.0,115.8 L450.0,117.3 L451.0,118.8 L451.7,119.9 L452.0,120.8 L453.0,125.0 L454.0,130.3 L455.0,136.1 L456.0,142.9 L457.0,150.9 L458.0,160.7 L459.0,170.2 L460.0,179.3 L461.0,188.6 L462.0,198.0 L463.0,207.5 L464.0,216.9 L465.0,226.0 L466.0,234.6 L467.0,242.7 L468.0,250.3 L469.0,257.9 L470.0,266.2 L471.0,274.4 L472.0,281.3 L473.0,287.0 L474.0,292.0 L475.0,296.1 L476.0,299.0 L477.0,301.6 L478.0,304.4 L479.0,307.3 L480.0,310.2 L481.0,312.7 L482.0,314.5 L483.0,316.2 L484.0,317.9 L485.0,319.6 L486.0,321.2 L487.0,322.7 L488.0,324.2 L489.0,325.6 L490.0,327.0 L491.0,328.4 L492.0,329.7 L493.0,331.0 L494.0,332.2 L495.0,333.5 L496.0,334.7 L497.0,335.8 L498.0,337.0 L499.0,338.1 L500.0,339.2 L501.0,340.3 L502.0,341.3 L503.0,342.3 L504.0,343.3 L505.0,344.2 L506.0,345.1 L507.0,346.0 L508.0,346.9 L509.0,347.7 L510.0,348.6 L511.0,349.4 L512.0,350.3 L513.0,351.2 L514.0,352.0 L515.0,352.9 L516.0,353.7 L517.0,354.6 L518.0,355.4 L519.0,356.2 L520.0,357.0 L521.0,357.8 L522.0,358.6 L523.0,359.4 L524.0,360.2 L525.0,361.0 L526.0,361.7 L527.0,362.5 L528.0,363.2 L529.0,363.9 L530.0,364.6 L531.0,365.3 L532.0,366.0 L533.0,366.7 L534.0,367.4 L535.0,368.1 L536.0,368.8 L537.0,369.4 L538.0,370.1 L539.0,370.7 L540.0,371.3 L541.0,372.0 L542.0,372.6 L543.0,373.2 L544.0,373.8 L545.0,374.4 L546.0,374.9 L547.0,375.5 L548.0,376.1 L549.0,376.6 L550.0,377.2 L551.0,377.7 L552.0,378.2 L553.0,378.8 L554.0,379.3 L555.0,379.8 L556.0,380.3 L557.0,380.8 L558.0,381.4 L559.0,381.9 L560.0,382.3 L561.0,382.8 L562.0,383.3 L563.0,383.8 L564.0,384.3 L565.0,384.7 L566.0,385.2 L567.0,385.6 L568.0,386.1 L569.0,386.5 L570.0,387.0 L571.0,387.4 L572.0,387.9 L573.0,388.3 L574.0,388.7 L575.0,389.1 L576.0,389.5 L577.0,389.9 L578.0,390.3 L579.0,390.8 L580.0,391.1 L581.0,391.5 L582.0,391.9 L583.0,392.3 L584.0,392.7 L585.0,393.1 L586.0,393.5 L587.0,393.9 L588.0,394.2 L589.0,394.6 L590.0,395.0 L591.0,395.3 L592.0,395.7 L593.0,396.1 L594.0,396.4 L595.0,396.8 L596.0,397.1 L597.0,397.5 L598.0,397.9 L599.0,398.2 L600.0,398.6 L601.0,398.9 L602.0,399.3 L603.0,399.6 L604.0,399.9 L605.0,400.3 L606.0,400.6 L607.0,401.0 L608.0,401.3 L609.0,401.6 L610.0,402.0 L611.0,402.3 L612.0,402.6 L613.0,402.9 L614.0,403.2 L615.0,403.6 L616.0,403.9 L617.0,404.2 L618.0,404.5 L619.0,404.8 L620.0,405.1 L621.0,405.4 L622.0,405.7 L623.0,406.0 L624.0,406.3 L625.0,406.6 L626.0,406.9 L627.0,407.2 L628.0,407.4 L629.0,407.7 L630.0,408.0 L631.0,408.3 L632.0,408.6 L633.0,408.8 L634.0,409.1 L635.0,409.4 L636.0,409.7 L637.0,409.9 L638.0,410.2 L639.0,410.5 L640.0,410.7 L641.0,411.0 L642.0,411.2 L643.0,411.5 L644.0,411.8 L645.0,412.0 L646.0,412.3 L647.0,412.5 L648.0,412.8 L649.0,413.0 L650.0,413.3 L651.0,413.5 L652.0,413.7 L653.0,414.0 L654.0,414.2 L655.0,414.5 L656.0,414.7 L657.0,414.9 L658.0,415.2 L659.0,415.4 L660.0,415.6 L661.0,415.9 L662.0,416.1 L663.0,416.3 L664.0,416.6 L665.0,416.8 L666.0,417.0 L667.0,417.2 L668.0,417.5 L669.0,417.7 L670.0,417.9 L671.0,418.1 L672.0,418.3 L673.0,418.6 L674.0,418.8 L675.0,419.0 L676.0,419.2 L677.0,419.4 L678.0,419.6 L679.0,419.8 L680.0,420.1 L681.0,420.3 L682.0,420.5 L683.0,420.7 L684.0,420.9 L685.0,421.1 L686.0,421.3 L687.0,421.5 L688.0,421.7 L689.0,421.9 L690.0,422.1 L691.0,422.3 L692.0,422.5 L693.0,422.7 L694.0,422.9 L695.0,423.1 L696.0,423.3 L697.0,423.5 L698.0,423.7 L699.0,423.9 L700.0,424.1 L701.0,424.3 L702.0,424.5 L703.0,424.7 L704.0,424.9 L705.0,425.1 L706.0,425.3 L707.0,425.5 L708.0,425.7 L709.0,425.9 L710.0,426.1 L711.0,426.3 L712.0,426.5 L713.0,426.7 L714.0,426.9 L715.0,427.1 L716.0,427.2 L717.0,427.4 L718.0,427.6 L719.0,427.8 L720.0,428.0 L721.0,428.2 L722.0,428.4 L723.0,428.6 L724.0,428.8 L725.0,428.9 L726.0,429.1 L727.0,429.3 L728.0,429.5 L729.0,429.7 L730.0,429.9 L731.0,430.1 L732.0,430.2 L733.0,430.4 L734.0,430.6 L735.0,430.8 L736.0,431.0 L737.0,431.2 L738.0,431.3 L739.0,431.5 L740.0,431.7 L741.0,431.9 L742.0,432.1 L743.0,432.3 L744.0,432.4 L745.0,432.6 L746.0,432.8 L747.0,433.0 L748.0,433.1 L749.0,433.3 L750.0,433.5 L751.0,433.7 L752.0,433.9 L753.0,434.0" stroke="#9400ff"/>
<path d="M141.0,390.9 L142.0,390.7 L143.0,390.6 L144.0,390.4 L145.0,390.3 L146.0,390.1 L147.0,390.0 L148.0,389.9 L149.0,389.7 L150.0,389.6 L151.0,389.4 L152.0,389.3 L153.0,389.1 L154.0,389.0 L155.0,388.8 L156.0,388.7 L157.0,388.5 L158.0,388.4 L159.0,388.2 L160.0,388.1 L161.0,387.9 L162.0,387.8 L163.0,387.6 L164.0,387.5 L165.0,387.3 L166.0,387.1 L167.0,387.0 L168.0,386.8 L169.0,386.7 L170.0,386.5 L171.0,386.3 L172.0,386.2 L173.0,386.0 L174.0,385.9 L175.0,385.7 L176.0,385.5 L177.0,385.4 L178.0,385.2 L179.0,385.0 L180.0,384.9 L181.0,384.7 L182.0,384.5 L183.0,384.4 L184.0,384.2 L185.0,384.0 L186.0,383.9 L187.0,383.7 L188.0,383.5 L189.0,383.3 L190.0,383.2 L191.0,383.0 L192.0,382.8 L193.0,382.6 L194.0,382.4 L195.0,382.3 L196.0,382.1 L197.0,381.9 L198.0,381.7 L199.0,381.5 L200.0,381.4 L201.0,381.2 L202.0,381.0 L203.0,380.8 L204.0,380.6 L205.0,380.4 L206.0,380.2 L207.0,380.0 L208.0,379.8 L209.0,379.7 L210.0,379.5 L211.0,379.3 L212.0,379.1 L213.0,378.9 L214.0,378.7 L215.0,378.5 L216.0,378.3 L217.0,378.1 L218.0,377.9 L219.0,377.7 L220.0,377.5 L221.0,377.3 L222.0,377.0 L223.0,376.8 L224.0,376.6 L225.0,376.4 L226.0,376.2 L227.0,376.0 L228.0,375.8 L229.0,375.6 L230.0,375.3 L231.0,375.1 L232.0,374.9 L233.0,374.7 L234.0,374.5 L235.0,374.2 L236.0,374.0 L237.0,373.8 L238.0,373.6 L239.0,373.3 L240.0,373.1 L241.0,372.9 L242.0,372.6 L243.0,372.4 L244.0,372.2 L245.0,371.9 L246.0,371.7 L247.0,371.5 L248.0,371.2 L249.0,371.0 L250.0,370.7 L251.0,370.5 L252.0,370.2 L253.0,370.0 L254.0,369.7 L255.0,369.5 L256.0,369.2 L257.0,369.0 L258.0,368.7 L259.0,368.5 L260.0,368.2 L261.0,367.9 L262.0,367.7 L263.0,367.4 L264.0,367.1 L265.0,366.9 L266.0,366.6 L267.0,366.3 L268.0,366.1 L269.0,365.8 L270.0,365.5 L271.0,365.2 L272.0,365.0 L273.0,364.7 L274.0,364.4 L275.0,364.1 L276.0,363.8 L277.0,363.5 L278.0,363.2 L279.0,363.0 L280.0,362.7 L281.0,362.4 L282.0,362.1 L283.0,361.8 L284.0,361.5 L285.0,361.2 L286.0,360.9 L287.0,360.6 L288.0,360.2 L289.0,359.9 L290.0,359.6 L291.0,359.3 L292.0,359.0 L293.0,358.7 L294.0,358.3 L295.0,358.0 L296.0,357.7 L297.0,357.4 L298.0,357.0 L299.0,356.7 L300.0,356.4 L301.0,356.0 L302.0,355.7 L303.0,355.4 L304.0,355.0 L305.0,354.7 L306.0,354.3 L307.0,354.0 L308.0,353.6 L309.0,353.3 L310.0,352.9 L311.0,352.5 L312.0,352.2 L313.0,351.8 L314.0,351.4 L315.0,351.1 L316.0,350.7 L317.0,350.3 L318.0,350.0 L319.0,349.6 L320.0,349.2 L321.0,348.8 L322.0,348.4 L323.0,348.0 L324.0,347.6 L325.0,347.2 L326.0,346.8 L327.0,346.4 L328.0,346.0 L329.0,345.6 L330.0,345.2 L331.0,344.8 L332.0,344.4 L333.0,344.0 L334.0,343.6 L335.0,343.2 L336.0,342.7 L337.0,342.3 L338.0,341.9 L339.0,341.4 L340.0,341.0 L341.0,340.6 L342.0,340.1 L343.0,339.7 L344.0,339.2 L345.0,338.8 L346.0,338.3 L347.0,337.9 L348.0,337.4 L349.0,336.9 L350.0,336.5 L351.0,336.0 L352.0,335.5 L353.0,335.0 L354.0,334.6 L355.0,334.1 L356.0,333.6 L357.0,333.1 L358.0,332.6 L359.0,332.1 L360.0,331.6 L361.0,331.1 L362.0,330.6 L363.0,330.1 L364.0,329.5 L365.0,329.0 L366.0,328.5 L367.0,327.9 L368.0,327.4 L369.0,326.9 L370.0,326.3 L371.0,325.7 L372.0,325.2 L373.0,324.6 L374.0,324.0 L375.0,323.5 L376.0,322.9 L377.0,322.3 L378.0,321.7 L379.0,321.1 L380.0,320.5 L381.0,319.8 L382.0,319.2 L383.0,318.6 L384.0,317.9 L385.0,317.3 L386.0,316.6 L387.0,315.9 L388.0,315.2 L389.0,314.5 L390.0,313.8 L391.0,313.1 L392.0,312.3 L393.0,311.6 L394.0,310.8 L395.0,310.0 L396.0,309.2 L397.0,308.3 L398.0,307.5 L399.0,306.6 L400.0,305.7 L401.0,304.8 L402.0,303.8 L403.0,302.8 L404.0,301.8 L405.0,300.8 L406.0,299.7 L407.0,298.6 L408.0,297.5 L409.0,296.2 L410.0,295.0 L411.0,293.6 L412.0,292.3 L413.0,290.8 L414.0,289.3 L415.0,287.6 L416.0,285.8 L417.0,283.9 L418.0,281.8 L419.0,279.4 L420.0,276.6 L421.0,272.8 L422.0,267.5 L423.0,260.9 L424.0,255.2 L425.0,249.5 L426.0,243.7 L427.0,237.9 L428.0,231.7 L429.0,225.1 L430.0,218.2 L431.0,211.0 L432.0,203.5 L433.0,195.6 L434.0,187.2 L435.0,178.4 L436.0,169.0 L437.0,159.5 L438.0,152.0 L439.0,145.6 L440.0,139.9 L441.0,134.6 L441.8,131.6 L442.0,131.3 L443.0,129.5 L444.0,127.8 L445.0,126.2 L446.0,124.8 L446.8,123.9 L447.0,124.2 L448.0,125.5 L449.0,126.9 L450.0,128.5 L451.0,130.2 L451.7,131.5 L452.0,132.4 L453.0,136.5 L454.0,141.7 L455.0,147.2 L456.0,153.7 L457.0,161.1 L458.0,169.9 L459.0,178.4 L460.0,186.5 L461.0,194.6 L462.0,202.7 L463.0,210.6 L464.0,218.3 L465.0,225.5 L466.0,232.3 L467.0,238.6 L468.0,244.3 L469.0,249.9 L470.0,255.7 L471.0,261.3 L472.0,265.9 L473.0,269.7 L474.0,273.0 L475.0,275.7 L476.0,277.8 L477.0,279.7 L478.0,281.5 L479.0,283.4 L480.0,285.4 L481.0,287.3 L482.0,288.8 L483.0,290.2 L484.0,291.6 L485.0,293.0 L486.0,294.4 L487.0,295.7 L488.0,296.9 L489.0,298.1 L490.0,299.3 L491.0,300.4 L492.0,301.6 L493.0,302.6 L494.0,303.7 L495.0,304.7 L496.0,305.7 L497.0,306.7 L498.0,307.6 L499.0,308.6 L500.0,309.4 L501.0,310.3 L502.0,311.2 L503.0,312.0 L504.0,312.8 L505.0,313.6 L506.0,314.4 L507.0,315.1 L508.0,315.9 L509.0,316.6 L510.0,317.4 L511.0,318.1 L512.0,318.8 L513.0,319.5 L514.0,320.2 L515.0,320.9 L516.0,321.5 L517.0,322.2 L518.0,322.9 L519.0,323.5 L520.0,324.2 L521.0,324.8 L522.0,325.4 L523.0,326.1 L524.0,326.7 L525.0,327.3 L526.0,327.9 L527.0,328.5 L528.0,329.1 L529.0,329.7 L530.0,330.3 L531.0,330.9 L532.0,331.4 L533.0,332.0 L534.0,332.6 L535.0,333.1 L536.0,333.7 L537.0,334.2 L538.0,334.7 L539.0,335.2 L540.0,335.7 L541.0,336.2 L542.0,336.7 L543.0,337.2 L544.0,337.7 L545.0,338.1 L546.0,338.6 L547.0,339.1 L548.0,339.5 L549.0,339.9 L550.0,340.4 L551.0,340.8 L552.0,341.2 L553.0,341.7 L554.0,342.1 L555.0,342.5 L556.0,342.9 L557.0,343.3 L558.0,343.7 L559.0,344.1 L560.0,344.5 L561.0,344.9 L562.0,345.3 L563.0,345.7 L564.0,346.0 L565.0,346.4 L566.0,346.8 L567.0,347.2 L568.0,347.6 L569.0,348.0 L570.0,348.3 L571.0,348.7 L572.0,349.1 L573.0,349.5 L574.0,349.8 L575.0,350.2 L576.0,350.6 L577.0,350.9 L578.0,351.3 L579.0,351.6 L580.0,352.0 L581.0,352.3 L582.0,352.7 L583.0,353.0 L584.0,353.4 L585.0,353.7 L586.0,354.1 L587.0,354.4 L588.0,354.7 L589.0,355.1 L590.0,355.4 L591.0,355.7 L592.0,356.1 L593.0,356.4 L594.0,356.7 L595.0,357.1 L596.0,357.4 L597.0,357.7 L598.0,358.0 L599.0,358.4 L600.0,358.7 L601.0,359.0 L602.0,359.3 L603.0,359.6 L604.0,359.9 L605.0,360.3 L606.0,360.6 L607.0,360.9 L608.0,361.2 L609.0,361.5 L610.0,361.8 L611.0,362.1 L612.0,362.4 L613.0,362.7 L614.0,363.0 L615.0,363.3 L616.0,363.6 L617.0,363.9 L618.0,364.2 L619.0,364.5 L620.0,364.8 L621.0,365.0 L622.0,365.3 L623.0,365.6 L624.0,365.9 L625.0,366.2 L626.0,366.4 L627.0,366.7 L628.0,367.0 L629.0,367.2 L630.0,367.5 L631.0,367.8 L632.0,368.0 L633.0,368.3 L634.0,368.6 L635.0,368.8 L636.0,369.1 L637.0,369.3 L638.0,369.6 L639.0,369.8 L640.0,370.1 L641.0,370.3 L642.0,370.6 L643.0,370.8 L644.0,371.1 L645.0,371.3 L646.0,371.6 L647.0,371.8 L648.0,372.1 L649.0,372.3 L650.0,372.5 L651.0,372.8 L652.0,373.0 L653.0,373.2 L654.0,373.5 L655.0,373.7 L656.0,373.9 L657.0,374.1 L658.0,374.4 L659.0,374.6 L660.0,374.8 L661.0,375.0 L662.0,375.3 L663.0,375.5 L664.0,375.7 L665.0,375.9 L666.0,376.1 L667.0,376.3 L668.0,376.6 L669.0,376.8 L670.0,377.0 L671.0,377.2 L672.0,377.4 L673.0,377.6 L674.0,377.8 L675.0,378.0 L676.0,378.2 L677.0,378.4 L678.0,378.6 L679.0,378.8 L680.0,379.0 L681.0,379.2 L682.0,379.4 L683.0,379.6 L684.0,379.8 L685.0,380.0 L686.0,380.2 L687.0,380.4 L688.0,380.6 L689.0,380.8 L690.0,381.0 L691.0,381.1 L692.0,381.3 L693.0,381.5 L694.0,381.7 L695.0,381.9 L696.0,382.1 L697.0,382.3 L698.0,382.4 L699.0,382.6 L700.0,382.8 L701.0,383.0 L702.0,383.2 L703.0,383.3 L704.0,383.5 L705.0,383.7 L706.0,383.9 L707.0,384.0 L708.0,384.2 L709.0,384.4 L710.0,384.6 L711.0,384.7 L712.0,384.9 L713.0,385.1 L714.0,385.2 L715.0,385.4 L716.0,385.6 L717.0,385.7 L718.0,385.9 L719.0,386.1 L720.0,386.2 L721.0,386.4 L722.0,386.6 L723.0,386.7 L724.0,386.9 L725.0,387.1 L726.0,387.2 L727.0,387.4 L728.0,387.5 L729.0,387.7 L730.0,387.9 L731.0,388.0 L732.0,388.2 L733.0,388.3 L734.0,388.5 L735.0,388.6 L736.0,388.8 L737.0,388.9 L738.0,389.1 L739.0,389.3 L740.0,389.4 L741.0,389.6 L742.0,389.7 L743.0,389.9 L744.0,390.0 L745.0,390.2 L746.0,390.3 L747.0,390.5 L748.0,390.6 L749.0,390.7 L750.0,390.9 L751.0,391.0 L752.0,391.2 L753.0,391.3" stroke="#00ff7f"/>
<path d="M141.0,370.0 L142.0,369.9 L143.0,369.7 L144.0,369.6 L145.0,369.4 L146.0,369.3 L147.0,369.2 L148.0,369.0 L149.0,368.9 L150.0,368.7 L151.0,368.6 L152.0,368.4 L153.0,368.3 L154.0,368.2 L155.0,368.0 L156.0,367.9 L157.0,367.7 L158.0,367.6 L159.0,367.4 L160.0,367.3 L161.0,367.1 L162.0,367.0 L163.0,366.9 L164.0,366.7 L165.0,366.6 L166.0,366.4 L167.0,366.3 L168.0,366.1 L169.0,366.0 L170.0,365.8 L171.0,365.7 L172.0,365.5 L173.0,365.4 L174.0,365.2 L175.0,365.0 L176.0,364.9 L177.0,364.7 L178.0,364.6 L179.0,364.4 L180.0,364.3 L181.0,364.1 L182.0,364.0 L183.0,363.8 L184.0,363.7 L185.0,363.5 L186.0,363.3 L187.0,363.2 L188.0,363.0 L189.0,362.9 L190.0,362.7 L191.0,362.5 L192.0,362.4 L193.0,362.2 L194.0,362.1 L195.0,361.9 L196.0,361.7 L197.0,361.6 L198.0,361.4 L199.0,361.2 L200.0,361.1 L201.0,360.9 L202.0,360.7 L203.0,360.6 L204.0,360.4 L205.0,360.2 L206.0,360.0 L207.0,359.9 L208.0,359.7 L209.0,359.5 L210.0,359.4 L211.0,359.2 L212.0,359.0 L213.0,358.8 L214.0,358.7 L215.0,358.5 L216.0,358.3 L217.0,358.1 L218.0,357.9 L219.0,357.8 L220.0,357.6 L221.0,357.4 L222.0,357.2 L223.0,357.0 L224.0,356.9 L225.0,356.7 L226.0,356.5 L227.0,356.3 L228.0,356.1 L229.0,355.9 L230.0,355.7 L231.0,355.5 L232.0,355.3 L233.0,355.2 L234.0,355.0 L235.0,354.8 L236.0,354.6 L237.0,354.4 L238.0,354.2 L239.0,354.0 L240.0,353.8 L241.0,353.6 L242.0,353.4 L243.0,353.2 L244.0,353.0 L245.0,352.8 L246.0,352.6 L247.0,352.4 L248.0,352.2 L249.0,351.9 L250.0,351.7 L251.0,351.5 L252.0,351.3 L253.0,351.1 L254.0,350.9 L255.0,350.7 L256.0,350.5 L257.0,350.2 L258.0,350.0 L259.0,349.8 L260.0,349.6 L261.0,349.4 L262.0,349.1 L263.0,348.9 L264.0,348.7 L265.0,348.4 L266.0,348.2 L267.0,348.0 L268.0,347.8 L269.0,347.5 L270.0,347.3 L271.0,347.1 L272.0,346.8 L273.0,346.6 L274.0,346.3 L275.0,346.1 L276.0,345.8 L277.0,345.6 L278.0,345.4 L279.0,345.1 L280.0,344.9 L281.0,344.6 L282.0,344.4 L283.0,344.1 L284.0,343.8 L285.0,343.6 L286.0,343.3 L287.0,343.1 L288.0,342.8 L289.0,342.5 L290.0,342.3 L291.0,342.0 L292.0,341.7 L293.0,341.5 L294.0,341.2 L295.0,340.9 L296.0,340.6 L297.0,340.4 L298.0,340.1 L299.0,339.8 L300.0,339.5 L301.0,339.2 L302.0,338.9 L303.0,338.6 L304.0,338.4 L305.0,338.1 L306.0,337.8 L307.0,337.5 L308.0,337.2 L309.0,336.9 L310.0,336.5 L311.0,336.2 L312.0,335.9 L313.0,335.6 L314.0,335.3 L315.0,335.0 L316.0,334.7 L317.0,334.3 L318.0,334.0 L319.0,333.7 L320.0,333.4 L321.0,333.0 L322.0,332.7 L323.0,332.4 L324.0,332.0 L325.0,331.7 L326.0,331.3 L327.0,331.0 L328.0,330.6 L329.0,330.3 L330.0,329.9 L331.0,329.6 L332.0,329.2 L333.0,328.8 L334.0,328.5 L335.0,328.1 L336.0,327.7 L337.0,327.4 L338.0,327.0 L339.0,326.6 L340.0,326.2 L341.0,325.8 L342.0,325.4 L343.0,325.0 L344.0,324.7 L345.0,324.3 L346.0,323.8 L347.0,323.4 L348.0,323.0 L349.0,322.6 L350.0,322.2 L351.0,321.8 L352.0,321.3 L353.0,320.9 L354.0,320.5 L355.0,320.0 L356.0,319.6 L357.0,319.2 L358.0,318.7 L359.0,318.3 L360.0,317.8 L361.0,317.3 L362.0,316.9 L363.0,316.4 L364.0,315.9 L365.0,315.4 L366.0,314.9 L367.0,314.4 L368.0,313.9 L369.0,313.4 L370.0,312.9 L371.0,312.4 L372.0,311.9 L373.0,311.3 L374.0,310.8 L375.0,310.2 L376.0,309.7 L377.0,309.1 L378.0,308.5 L379.0,308.0 L380.0,307.4 L381.0,306.8 L382.0,306.2 L383.0,305.6 L384.0,304.9 L385.0,304.3 L386.0,303.7 L387.0,303.0 L388.0,302.3 L389.0,301.6 L390.0,300.9 L391.0,300.2 L392.0,299.5 L393.0,298.7 L394.0,298.0 L395.0,297.2 L396.0,296.4 L397.0,295.6 L398.0,294.7 L399.0,293.9 L400.0,293.0 L401.0,292.1 L402.0,291.1 L403.0,290.2 L404.0,289.2 L405.0,288.1 L406.0,287.1 L407.0,286.0 L408.0,284.9 L409.0,283.7 L410.0,282.4 L411.0,281.2 L412.0,279.8 L413.0,278.5 L414.0,277.0 L415.0,275.4 L416.0,273.8 L417.0,272.0 L418.0,270.2 L419.0,268.1 L420.0,265.8 L421.0,262.7 L422.0,258.7 L423.0,253.6 L424.0,249.1 L425.0,244.6 L426.0,239.9 L427.0,235.2 L428.0,230.1 L429.0,224.6 L430.0,218.9 L431.0,212.8 L432.0,206.4 L433.0,199.6 L434.0,192.3 L435.0,184.5 L436.0,176.2 L437.0,167.6 L438.0,160.8 L439.0,155.0 L440.0,149.8 L441.0,145.0 L441.8,142.2 L442.0,141.9 L443.0,140.4 L444.0,138.9 L445.0,137.5 L446.0,136.3 L446.8,135.4 L447.0,135.6 L448.0,136.9 L449.0,138.2 L450.0,139.6 L451.0,141.1 L451.7,142.1 L452.0,142.9 L453.0,146.7 L454.0,151.4 L455.0,156.5 L456.0,162.3 L457.0,169.1 L458.0,177.0 L459.0,184.6 L460.0,191.7 L461.0,198.8 L462.0,205.8 L463.0,212.6 L464.0,219.1 L465.0,225.2 L466.0,230.9 L467.0,236.1 L468.0,240.8 L469.0,245.4 L470.0,250.1 L471.0,254.5 L472.0,258.3 L473.0,261.4 L474.0,264.2 L475.0,266.6 L476.0,268.5 L477.0,270.2 L478.0,272.0 L479.0,273.7 L480.0,275.5 L481.0,277.1 L482.0,278.5 L483.0,279.9 L484.0,281.2 L485.0,282.4 L486.0,283.6 L487.0,284.8 L488.0,285.9 L489.0,287.0 L490.0,288.1 L491.0,289.1 L492.0,290.1 L493.0,291.1 L494.0,292.0 L495.0,292.9 L496.0,293.8 L497.0,294.7 L498.0,295.5 L499.0,296.4 L500.0,297.2 L501.0,298.0 L502.0,298.7 L503.0,299.5 L504.0,300.2 L505.0,300.9 L506.0,301.7 L507.0,302.3 L508.0,303.0 L509.0,303.7 L510.0,304.4 L511.0,305.0 L512.0,305.6 L513.0,306.3 L514.0,306.9 L515.0,307.5 L516.0,308.1 L517.0,308.7 L518.0,309.3 L519.0,309.8 L520.0,310.4 L521.0,311.0 L522.0,311.5 L523.0,312.0 L524.0,312.6 L525.0,313.1 L526.0,313.6 L527.0,314.1 L528.0,314.7 L529.0,315.2 L530.0,315.7 L531.0,316.1 L532.0,316.6 L533.0,317.1 L534.0,317.6 L535.0,318.1 L536.0,318.5 L537.0,319.0 L538.0,319.4 L539.0,319.9 L540.0,320.3 L541.0,320.8 L542.0,321.2 L543.0,321.7 L544.0,322.1 L545.0,322.5 L546.0,322.9 L547.0,323.4 L548.0,323.8 L549.0,324.2 L550.0,324.6 L551.0,325.0 L552.0,325.4 L553.0,325.8 L554.0,326.2 L555.0,326.6 L556.0,327.0 L557.0,327.3 L558.0,327.7 L559.0,328.1 L560.0,328.5 L561.0,328.8 L562.0,329.2 L563.0,329.6 L564.0,329.9 L565.0,330.3 L566.0,330.7 L567.0,331.0 L568.0,331.4 L569.0,331.7 L570.0,332.0 L571.0,332.4 L572.0,332.7 L573.0,333.1 L574.0,333.4 L575.0,333.7 L576.0,334.1 L577.0,334.4 L578.0,334.7 L579.0,335.0 L580.0,335.3 L581.0,335.7 L582.0,336.0 L583.0,336.3 L584.0,336.6 L585.0,336.9 L586.0,337.2 L587.0,337.5 L588.0,337.8 L589.0,338.1 L590.0,338.4 L591.0,338.7 L592.0,339.0 L593.0,339.3 L594.0,339.6 L595.0,339.9 L596.0,340.1 L597.0,340.4 L598.0,340.7 L599.0,341.0 L600.0,341.3 L601.0,341.5 L602.0,341.8 L603.0,342.1 L604.0,342.3 L605.0,342.6 L606.0,342.9 L607.0,343.1 L608.0,343.4 L609.0,343.7 L610.0,343.9 L611.0,344.2 L612.0,344.4 L613.0,344.7 L614.0,344.9 L615.0,345.2 L616.0,345.4 L617.0,345.7 L618.0,345.9 L619.0,346.2 L620.0,346.4 L621.0,346.7 L622.0,346.9 L623.0,347.1 L624.0,347.4 L625.0,347.6 L626.0,347.8 L627.0,348.1 L628.0,348.3 L629.0,348.5 L630.0,348.8 L631.0,349.0 L632.0,349.2 L633.0,349.4 L634.0,349.6 L635.0,349.9 L636.0,350.1 L637.0,350.3 L638.0,350.5 L639.0,350.7 L640.0,351.0 L641.0,351.2 L642.0,351.4 L643.0,351.6 L644.0,351.8 L645.0,352.0 L646.0,352.2 L647.0,352.4 L648.0,352.6 L649.0,352.8 L650.0,353.0 L651.0,353.2 L652.0,353.4 L653.0,353.6 L654.0,353.8 L655.0,354.0 L656.0,354.2 L657.0,354.4 L658.0,354.6 L659.0,354.8 L660.0,355.0 L661.0,355.2 L662.0,355.4 L663.0,355.6 L664.0,355.8 L665.0,356.0 L666.0,356.2 L667.0,356.3 L668.0,356.5 L669.0,356.7 L670.0,356.9 L671.0,357.1 L672.0,357.3 L673.0,357.4 L674.0,357.6 L675.0,357.8 L676.0,358.0 L677.0,358.2 L678.0,358.3 L679.0,358.5 L680.0,358.7 L681.0,358.9 L682.0,359.0 L683.0,359.2 L684.0,359.4 L685.0,359.6 L686.0,359.7 L687.0,359.9 L688.0,360.1 L689.0,360.2 L690.0,360.4 L691.0,360.6 L692.0,360.7 L693.0,360.9 L694.0,361.1 L695.0,361.2 L696.0,361.4 L697.0,361.6 L698.0,361.7 L699.0,361.9 L700.0,362.1 L701.0,362.2 L702.0,362.4 L703.0,362.6 L704.0,362.7 L705.0,362.9 L706.0,363.0 L707.0,363.2 L708.0,363.4 L709.0,363.5 L710.0,363.7 L711.0,363.8 L712.0,364.0 L713.0,364.1 L714.0,364.3 L715.0,364.5 L716.0,364.6 L717.0,364.8 L718.0,364.9 L719.0,365.1 L720.0,365.2 L721.0,365.4 L722.0,365.5 L723.0,365.7 L724.0,365.8 L725.0,366.0 L726.0,366.1 L727.0,366.3 L728.0,366.4 L729.0,366.6 L730.0,366.7 L731.0,366.9 L732.0,367.0 L733.0,367.2 L734.0,367.3 L735.0,367.5 L736.0,367.6 L737.0,367.8 L738.0,367.9 L739.0,368.1 L740.0,368.2 L741.0,368.3 L742.0,368.5 L743.0,368.6 L744.0,368.8 L745.0,368.9 L746.0,369.1 L747.0,369.2 L748.0,369.3 L749.0,369.5 L750.0,369.6 L751.0,369.8 L752.0,369.9 L753.0,370.1" stroke="#ff0000"/>
<path d="M292.2,566.2 L293.7,565.3 L295.2,564.4 L296.7,563.6 L298.2,562.7 L299.7,561.8 L301.2,560.8 L302.7,559.7 L304.2,558.7 L305.7,557.6 L307.2,556.5 L308.7,555.4 L310.2,554.3 L311.7,553.2 L313.2,552.1 L314.7,551.0 L316.2,549.8 L317.7,548.7 L319.2,547.5 L320.7,546.4 L322.2,545.2 L323.7,544.0 L325.2,542.8 L326.7,541.6 L328.2,540.4 L329.7,539.2 L331.2,538.0 L332.7,536.8 L334.2,535.5 L335.7,534.3 L337.2,533.0 L338.7,531.7 L340.2,530.5 L341.7,529.2 L343.2,527.9 L344.7,526.6 L346.2,525.3 L347.7,524.0 L349.2,522.6 L350.7,521.3 L352.2,519.9 L353.7,518.5 L355.2,517.1 L356.7,515.6 L358.2,514.1 L359.7,512.6 L361.2,511.0 L362.7,509.4 L364.2,507.8 L365.7,506.2 L367.2,504.6 L368.7,502.9 L370.2,501.2 L371.7,499.5 L373.2,497.7 L374.7,496.0 L376.2,494.2 L377.7,492.5 L379.2,490.7 L380.7,488.9 L382.2,487.2 L383.7,485.4 L385.2,483.5 L386.7,481.6 L388.2,479.7 L389.7,477.6 L391.2,475.6 L392.7,473.4 L394.2,471.1 L395.7,468.7 L397.2,466.3 L398.7,463.7 L400.2,461.1 L401.7,458.5 L403.2,455.8 L404.7,453.1 L406.2,450.4 L407.7,447.2 L409.2,443.0 L410.7,438.2 L412.2,433.6 L413.7,427.5 L415.2,419.2 L416.7,409.0 L418.2,396.7 L419.7,380.0 L421.2,351.6 L422.7,313.6 L424.2,289.3 L425.7,270.1 L427.2,253.4 L428.7,236.6 L430.2,220.2 L431.7,203.9 L433.2,187.3 L434.7,170.1 L436.2,152.3 L437.7,136.5 L439.2,125.5 L440.7,116.3 L441.8,111.5 L446.8,103.9 L451.7,111.5 L451.7,111.5 L453.2,117.9 L454.7,126.7 L456.2,137.6 L457.7,152.2 L459.2,168.3 L460.7,184.0 L462.2,200.8 L463.7,218.3 L465.2,236.1 L466.7,253.5 L468.2,270.4 L469.7,290.0 L471.2,313.3 L472.7,333.5 L474.2,350.8 L475.7,361.2 L477.2,366.9 L478.7,374.0 L480.2,384.2 L481.7,390.6 L483.2,394.5 L484.7,398.7 L486.2,402.7 L487.7,406.5 L489.2,410.0 L490.7,413.3 L492.2,416.5 L493.7,419.5 L495.2,422.5 L496.7,425.4 L498.2,428.2 L499.7,431.0 L501.2,433.7 L502.7,436.5 L504.2,439.1 L505.7,441.8 L507.2,444.3 L508.7,446.9 L510.2,449.4 L511.7,451.8 L513.2,454.3 L514.7,456.7 L516.2,459.1 L517.7,461.4 L519.2,463.8 L520.7,466.1 L522.2,468.4 L523.7,470.6 L525.2,472.8 L526.7,474.9 L528.2,476.9 L529.7,478.9 L531.2,480.9 L532.7,482.8 L534.2,484.7 L535.7,486.6 L537.2,488.5 L538.7,490.3 L540.2,492.1 L541.7,493.9 L543.2,495.6 L544.7,497.3 L546.2,498.9 L547.7,500.6 L549.2,502.1 L550.7,503.7 L552.2,505.2 L553.7,506.6 L555.2,508.0 L556.7,509.4 L558.2,510.8 L559.7,512.1 L561.2,513.4 L562.7,514.7 L564.2,516.0 L565.7,517.2 L567.2,518.4 L568.7,519.6 L570.2,520.7 L571.7,521.8 L573.2,522.9 L574.7,524.0 L576.2,525.0 L577.7,526.0 L579.2,527.0 L580.7,527.9 L582.2,528.8 L583.7,529.8 L585.2,530.7 L586.7,531.6 L588.2,532.4 L589.7,533.3 L591.2,534.1 L592.7,534.9 L594.2,535.7 L595.7,536.4 L597.2,537.2 L598.7,537.9 L600.2,538.6 L601.7,539.2 L603.2,539.9 L604.7,540.5 L606.2,541.1 L607.7,541.7 L609.2,542.3 L610.7,542.9 L612.2,543.4 L613.7,544.0 L615.2,544.5 L616.7,545.0 L618.2,545.5 L619.7,546.0 L621.2,546.5 L622.7,546.9 L624.2,547.4 L625.7,547.8 L627.2,548.2 L628.7,548.6 L630.2,549.0 L631.7,549.4 L633.2,549.8 L634.7,550.1 L636.2,550.5 L637.7,550.8 L639.2,551.2 L640.7,551.5 L642.2,551.8 L643.7,552.1 L645.2,552.4 L646.7,552.7 L648.2,553.0 L649.7,553.3 L651.2,553.6 L652.7,553.9 L654.2,554.2 L655.7,554.5 L657.2,554.7 L658.7,555.0 L660.2,555.3 L661.7,555.5 L663.2,555.8 L664.7,556.0 L666.2,556.3 L667.7,556.5 L669.2,556.8 L670.7,557.0 L672.2,557.2 L673.7,557.5 L675.2,557.7 L676.7,557.9 L678.2,558.1 L679.7,558.3 L681.2,558.6 L682.7,558.8 L684.2,559.0 L685.7,559.2 L687.2,559.4 L688.7,559.6 L690.2,559.8 L691.7,560.0 L693.2,560.2 L694.7,560.4 L696.2,560.6 L697.7,560.8 L699.2,561.1 L700.7,561.3 L702.2,561.6 L703.7,561.9 L705.2,562.2 L706.7,562.4 L708.2,562.7 L709.7,563.0 L711.2,563.3 L712.7,563.5 L714.2,563.8 L715.7,564.1 L717.2,564.4 L718.7,564.6 L720.2,564.9" stroke="#000" stroke-width="3.6" stroke-linejoin="round"/>
</g>
<g fill="none" stroke="#000" stroke-width="2">
<path d="M136,68.0 H661 M141.0,67.0 V563.0 M136,562.0 H754.0 M753.0,288 V563.0"/>
<path d="M131,106.9 H141.0 M131,236.0 H141.0 M131,365.1 H141.0 M131,494.2 H141.0 M136,545.5 H141.0 M136,533.0 H141.0 M136,522.8 H141.0 M136,514.2 H141.0 M136,506.7 H141.0 M136,500.1 H141.0 M136,455.3 H141.0 M136,432.6 H141.0 M136,416.4 H141.0 M136,403.9 H141.0 M136,393.7 H141.0 M136,385.1 H141.0 M136,377.6 H141.0 M136,371.0 H141.0 M136,326.2 H141.0 M136,303.5 H141.0 M136,287.4 H141.0 M136,274.9 H141.0 M136,264.6 H141.0 M136,256.0 H141.0 M136,248.5 H141.0 M136,241.9 H141.0 M136,197.1 H141.0 M136,174.4 H141.0 M136,158.3 H141.0 M136,145.8 H141.0 M136,135.6 H141.0 M136,126.9 H141.0 M136,119.4 H141.0 M136,112.8 H141.0 M215.0,562.0 V572.0 M330.9,562.0 V572.0 M446.9,562.0 V572.0 M562.8,562.0 V572.0 M678.8,562.0 V572.0 M157.0,562.0 V567.0 M272.9,562.0 V567.0 M388.9,562.0 V567.0 M504.8,562.0 V567.0 M620.8,562.0 V567.0 M736.7,562.0 V567.0"/>
</g>
<!-- legend -->
<g fill="none" stroke-width="3.8" stroke-linecap="round">
<path d="M665.8,67 H681 M702.4,67 H717.6" stroke="#9400ff"/>
<path d="M665.8,106.6 H681 M702.4,106.6 H717.6" stroke="#00ff7f"/>
<path d="M665.8,146.3 H681 M702.4,146.3 H717.6" stroke="#ff0000"/>
<path d="M665.8,225.8 H681 M702.4,225.8 H717.6" stroke="#9400ff"/>
<path d="M665.8,265.6 H737.8" stroke="#9400ff"/>
</g>
<text x="666.40" y="38.5" font-size="33" textLength="24.19" lengthAdjust="spacingAndGlyphs">Q</text>
<text x="699.14" y="38.5" font-size="33" textLength="8.67" lengthAdjust="spacingAndGlyphs">(</text>
<text x="711.25" y="38.5" font-size="33" textLength="19.81" lengthAdjust="spacingAndGlyphs">Å</text>
<text x="733.09" y="24.7" font-size="22" textLength="7.48" lengthAdjust="spacingAndGlyphs">-</text>
<polygon points="748.60,24.70 746.51,24.70 746.51,11.78 742.94,13.94 741.80,12.77 746.80,9.70 748.60,9.70" fill="#000"/>
<text x="752.64" y="38.5" font-size="33" textLength="8.71" lengthAdjust="spacingAndGlyphs">)</text>
<text x="762.00" y="38.5" font-size="33" textLength="11.12" lengthAdjust="spacingAndGlyphs">:</text>
<text x="746.4" y="77.6" class="l" textLength="46.3" lengthAdjust="spacingAndGlyphs">0.5</text>
<polygon points="759.04,117.30 756.59,117.30 756.59,98.28 752.41,101.47 751.07,99.73 756.93,95.22 759.04,95.22" fill="#000"/>
<polygon points="785.73,117.30 783.28,117.30 783.28,98.28 779.09,101.47 777.76,99.73 783.62,95.22 785.73,95.22" fill="#000"/>
<text x="765.79" y="117.3" font-size="32">.</text>
<polygon points="758.44,157.00 755.99,157.00 755.99,137.98 751.81,141.17 750.47,139.43 756.33,134.92 758.44,134.92" fill="#000"/>
<text x="765.19 774.09" y="157" font-size="32">.7</text>
<text x="748" y="236.6" class="l">PF8</text>
<polygon points="799.94,276.40 797.49,276.40 797.49,257.38 793.30,260.57 791.97,258.83 797.83,254.32 799.94,254.32" fill="#000"/>
<text x="748.00 769.34 806.69" y="276.4" font-size="32">PF2</text>
<polygon points="99.19,116.80 96.66,116.80 96.66,97.19 92.35,100.47 90.97,98.69 97.01,94.03 99.19,94.03" fill="#000"/>
<text x="106.15" y="116.8" font-size="33">0</text>
<polygon points="117.54,245.90 115.01,245.90 115.01,226.29 110.69,229.57 109.32,227.79 115.36,223.13 117.54,223.13" fill="#000"/>
<polygon points="117.54,375.00 115.01,375.00 115.01,355.39 110.69,358.67 109.32,356.89 115.36,352.23 117.54,352.23" fill="#000"/>
<text x="78.63 96.98" y="375.0" font-size="33">0.</text>
<polygon points="117.54,504.10 115.01,504.10 115.01,484.49 110.69,487.77 109.32,485.99 115.36,481.33 117.54,481.33" fill="#000"/>
<text x="60.28 78.63 87.80" y="504.1" font-size="33">0.0</text>
<polygon points="208.89,604.60 206.37,604.60 206.37,584.99 202.05,588.27 200.68,586.49 206.72,581.83 208.89,581.83" fill="#000"/>
<text x="186.52 215.86 225.03" y="604.6" font-size="33">-.0</text>
<text x="302.47 313.46 331.81 340.98" y="604.6" font-size="33">-0.5</text>
<text x="423.92 442.26 451.44" y="604.6" font-size="33">0.0</text>
<text x="539.87 558.21 567.39" y="604.6" font-size="33">0.5</text>
<polygon points="667.20,604.60 664.67,604.60 664.67,584.99 660.36,588.27 658.98,586.49 665.03,581.83 667.20,581.83" fill="#000"/>
<text x="674.16 683.34" y="604.6" font-size="33">.0</text>
<text x="176.6" y="131.8" class="b" font-size="40" textLength="101" lengthAdjust="spacingAndGlyphs">400K</text>
<text x="313.4" y="664" class="b" font-size="40" textLength="141.5" lengthAdjust="spacingAndGlyphs">Energy</text>
<text x="465.5" y="664" font-size="41.5" textLength="115" lengthAdjust="spacingAndGlyphs">(meV)</text>
<g transform="translate(38.2,448) rotate(-90)">
<text x="0.00" y="0" class="b" font-size="42" textLength="26.57" lengthAdjust="spacingAndGlyphs">S</text>
<text x="27.02" y="12" class="b" font-size="28.5" textLength="16.37" lengthAdjust="spacingAndGlyphs">a</text>
<text x="43.96" y="12" class="b" font-size="28.5" textLength="15.31" lengthAdjust="spacingAndGlyphs">v</text>
<text x="59.72" y="0" class="b" font-size="41.5" textLength="13.20" lengthAdjust="spacingAndGlyphs">(</text>
<text x="74.02" y="0" class="b" font-size="41.5" textLength="27.51" lengthAdjust="spacingAndGlyphs">E</text>
<text x="101.59" y="0" class="b" font-size="41.5" textLength="13.80" lengthAdjust="spacingAndGlyphs">)</text>
<text x="126.89" y="-1.9" font-size="39" textLength="11.69" lengthAdjust="spacingAndGlyphs">(</text>
<text x="141.54" y="0" font-size="41.5" textLength="37.96" lengthAdjust="spacingAndGlyphs">m</text>
<text x="176.35" y="0" font-size="41.5" textLength="22.84" lengthAdjust="spacingAndGlyphs">e</text>
<text x="198.91" y="0" font-size="42" textLength="25.05" lengthAdjust="spacingAndGlyphs">V</text>
<text x="226.87" y="-16.6" font-size="29" textLength="9.11" lengthAdjust="spacingAndGlyphs">-</text>
<polygon points="246.80,-17.30 244.49,-17.30 244.49,-34.53 240.55,-31.64 239.30,-33.21 244.82,-37.30 246.80,-37.30" fill="#000"/>
<text x="253.64" y="-1.9" font-size="39" textLength="11.91" lengthAdjust="spacingAndGlyphs">)</text>
</g>
</svg>
</body></html>
